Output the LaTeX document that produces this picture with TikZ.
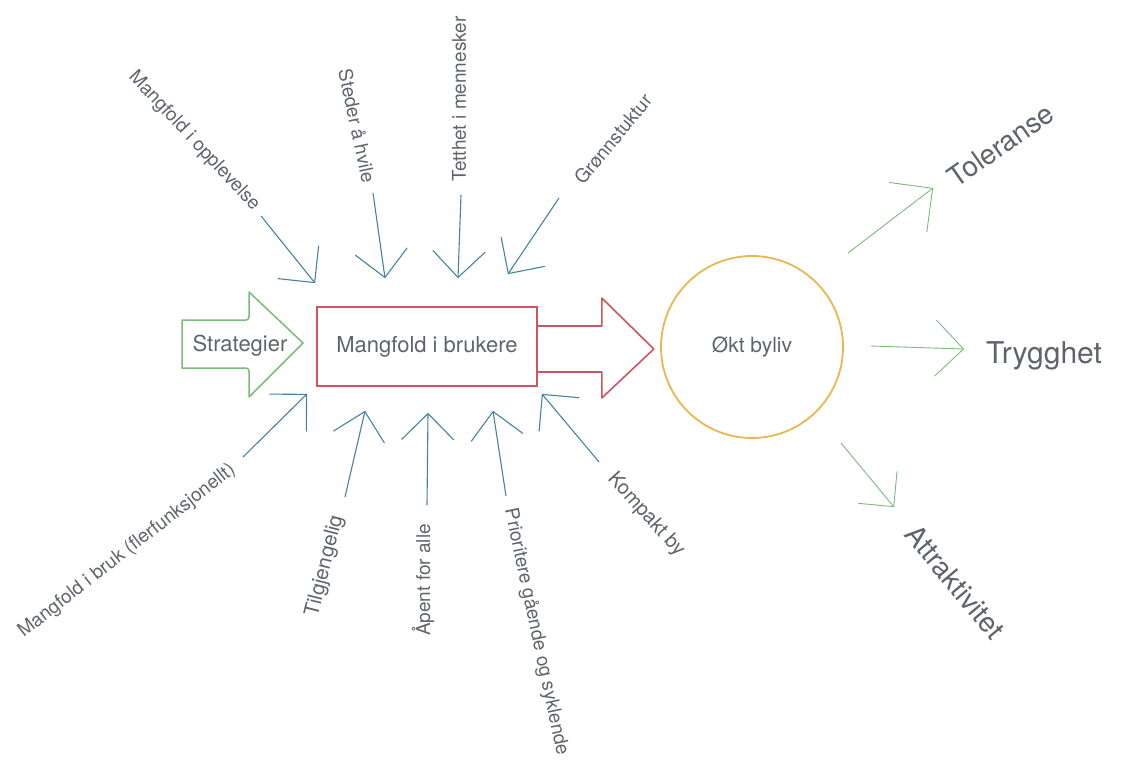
\documentclass[tikz,border=0pt]{standalone}
\usepackage{fontspec}
\setmainfont{TeX Gyre Heros}
\usetikzlibrary{arrows.meta}

\definecolor{tekst}{RGB}{95,100,108}
\definecolor{blaa}{RGB}{70,130,160}
\definecolor{groenn}{RGB}{125,185,125}
\definecolor{roed}{RGB}{205,85,95}
\definecolor{oransje}{RGB}{236,182,78}

\begin{document}
\begin{tikzpicture}[x=1pt,y=1pt]
      \tikzset{
        every node/.style={text=tekst,inner sep=0pt},
        lbl/.style={font=\fontsize{19}{22}\selectfont},
        stor/.style={font=\fontsize{28}{32}\selectfont},
        inn/.style={draw=blaa,line width=1.1pt,-{Straight Barb[length=26pt,width=52pt,round]}},
        ut/.style={draw=groenn,line width=0.9pt,-{Straight Barb[length=28pt,width=56pt,round]}}
      }
      \useasboundingbox (0,0) rectangle (1127,-763);

      % strategi-pil
      \draw[groenn,line width=1.5pt,line join=round]
        (182,-320) [rounded corners=3pt] -- (249,-320) [sharp corners] -- (249,-292)
        -- (303,-343) -- (249,-397) [rounded corners=3pt] -- (249,-368) [sharp corners]
        -- (182,-368) -- cycle;
      \node[font=\fontsize{22}{26}\selectfont,anchor=base] (strat) at (240,-351) {Strategier};

      \node[draw=roed,line width=1.6pt,minimum width=220pt,minimum height=79pt,
            font=\fontsize{22}{26}\selectfont] (brukere) at (427,-346.5) {Mangfold i brukere};
      \node[circle,draw=oransje,line width=1.8pt,minimum size=182pt,
            font=\fontsize{21}{25}\selectfont] (byliv) at (752,-347) {Økt byliv};

      % pil til byliv
      \draw[roed,line width=1.6pt,line join=round]
        ([yshift=20.5pt]brukere.east) -- ++(64,0) -- ++(0,28) -- ++(52,-51)
        -- ++(-52,-49) -- ++(0,26) -- ++(-64,0);

      % faktorer inn
      \coordinate (s1) at (261,-216); \coordinate (e1) at (315,-283);
      \coordinate (s2) at (373,-193); \coordinate (e2) at (385,-278);
      \coordinate (s3) at (461,-195); \coordinate (e3) at (458,-278);
      \coordinate (s4) at (559,-198); \coordinate (e4) at (508,-274);
      \coordinate (s5) at (243,-457); \coordinate (e5) at (307,-394);
      \coordinate (s6) at (345,-497); \coordinate (e6) at (365,-411);
      \coordinate (s7) at (427,-505); \coordinate (e7) at (428,-413);
      \coordinate (s8) at (506,-496); \coordinate (e8) at (493,-411);
      \coordinate (s9) at (599,-462); \coordinate (e9) at (542,-394);

      \node[lbl,rotate=-47] (l1) at (194,-141) {Mangfold i opplevelse};
      \node[lbl,rotate=-78] (l2) at (357,-126) {Steder å hvile};
      \node[lbl,rotate=90] (l3) at (459,-99) {Tetthet i mennesker};
      \node[lbl,rotate=50.5] (l4) at (613,-139) {Grønnstuktur};
      \node[lbl,rotate=38] (l5) at (127,-551) {Mangfold i bruk (flerfunksjonellt)};
      \node[lbl,rotate=76,font=\fontsize{20.5}{24}\selectfont] (l6) at (325,-566) {Tilgjengelig};
      \node[lbl,rotate=90] (l7) at (423,-580) {Åpent for alle};
      \node[lbl,rotate=-78] (l8) at (536,-632) {Prioritere gående og syklende};
      \node[lbl,rotate=-48,font=\fontsize{20}{24}\selectfont] (l9) at (646,-515) {Kompakt by};

      \path (s1) edge[inn] (e1)
            (s2) edge[inn] (e2)
            (s3) edge[inn] (e3)
            (s4) edge[inn] (e4)
            (s5) edge[inn] (e5)
            (s6) edge[inn] (e6)
            (s7) edge[inn] (e7)
            (s8) edge[inn] (e8)
            (s9) edge[inn] (e9);

      % resultater
      \coordinate (t1) at (848,-253); \coordinate (f1) at (933,-188);
      \coordinate (t2) at (871,-346); \coordinate (f2) at (964,-349);
      \coordinate (t3) at (841,-443); \coordinate (f3) at (894,-507);

      \node[stor,rotate=35] (toleranse) at (1001,-145) {Toleranse};
      \node[font=\fontsize{30}{34}\selectfont,anchor=base west] (trygghet) at (986,-363) {Trygghet};
      \node[stor,rotate=-50] (attraktiv) at (955,-582) {Attraktivitet};

      \path (t1) edge[ut,-{Straight Barb[length=31pt,width=62pt,round]}] (f1)
            (t2) edge[ut] (f2)
            (t3) edge[ut,-{Straight Barb[length=25pt,width=50pt,round]}] (f3);
\end{tikzpicture}
\end{document}
